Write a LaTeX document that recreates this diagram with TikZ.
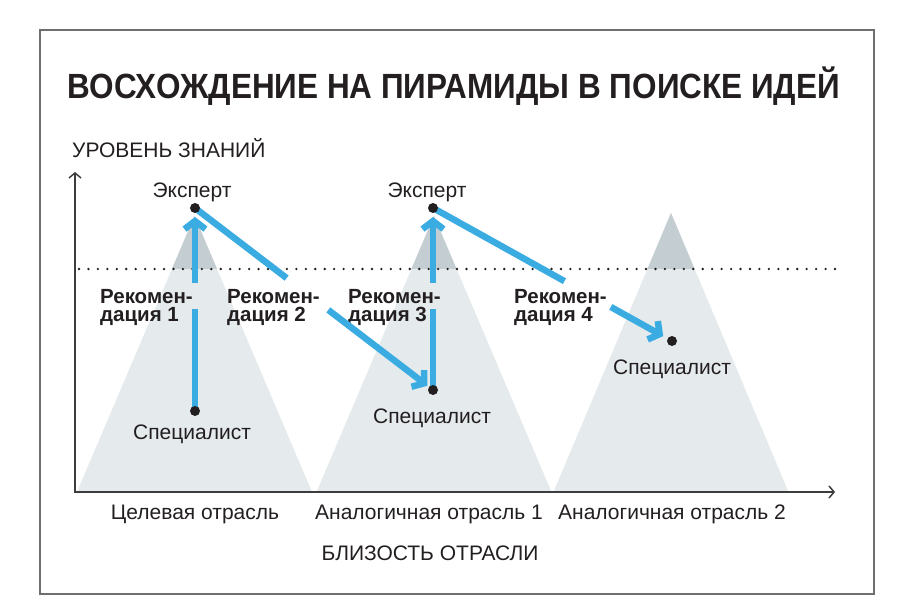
\documentclass[tikz,border=0pt]{standalone}
\usepackage{fontspec}
\setmainfont{Liberation Sans}
\usetikzlibrary{arrows.meta,calc}
\definecolor{ink}{HTML}{231F20}
\definecolor{pyrlight}{HTML}{E5EAEC}
\definecolor{pyrdark}{HTML}{C4CED2}
\definecolor{arrblue}{HTML}{3BACE1}
\definecolor{framegray}{HTML}{6E6E6E}
\definecolor{axisgray}{HTML}{3C3C3C}
\pgfdeclarelayer{fg}
\pgfsetlayers{main,fg}
\begin{document}
\begin{tikzpicture}[x=1pt,y=-1pt,
  dot/.style={circle,fill=ink,inner sep=0pt,minimum size=10pt},
  reg/.style={font=\fontsize{21}{24}\selectfont,text=ink,inner sep=0pt},
  rec/.style={font=\fontsize{20.5}{17.5}\bfseries\selectfont,text=ink,inner sep=0pt,align=left},
  blueline/.style={draw=arrblue,line width=6.5pt},
  bluearrow/.style={blueline,-{Straight Barb[length=8pt,width=21pt]}},
  axisline/.style={draw=axisgray,line width=1.8pt,line join=miter}
]
\useasboundingbox (0,0) rectangle (897,613);
\fill[white] (0,0) rectangle (897,613);
\draw[framegray,line width=1.5pt] (40,30) rectangle (874,594);

% pyramids
\foreach \c/\t in {194.5/216,434/216,671/213}{
  \fill[pyrlight] (\c-117.5,492) -- (\c,\t) -- (\c+117.5,492) -- cycle;
  \begin{scope}
    \clip (\c-117.5,492) -- (\c,\t) -- (\c+117.5,492) -- cycle;
    \fill[pyrdark] (\c-120,200) rectangle (\c+120,269);
  \end{scope}
}

% dotted level line
\draw[ink,line width=2.6pt,line cap=round,dash pattern=on 0pt off 9.45pt] (79,269) -- (837,269);

% axes
\coordinate (ytop) at (75,172);
\coordinate (origin) at (75,492);
\coordinate (xend) at (835,492);
\draw[axisline,{Straight Barb[length=5pt,width=12pt,line width=1.5pt]}-{Straight Barb[length=5pt,width=12pt,line width=1.5pt]}] (ytop) -- (origin) -- (xend);

% title and axis labels
\node[anchor=base,inner sep=0pt,text=ink,font=\fontsize{35}{40}\bfseries\selectfont] (title) at (454,98)
  {\resizebox{772pt}{\height}{ВОСХОЖДЕНИЕ НА ПИРАМИДЫ В ПОИСКЕ ИДЕЙ}};
\node[reg,anchor=base west] (ylab) at (72,157) {УРОВЕНЬ ЗНАНИЙ};
\node[reg,anchor=base] (xlab) at (430,560) {БЛИЗОСТЬ ОТРАСЛИ};
\node[reg,anchor=base] (ind1) at (195,519) {Целевая отрасль};
\node[reg,anchor=base] (ind2) at (429,519) {Аналогичная отрасль 1};
\node[reg,anchor=base] (ind3) at (672,519) {Аналогичная отрасль 2};

% points
\begin{pgfonlayer}{fg}
\node[dot] (exp1) at (195,208) {};
\node[dot] (spec1) at (195,411) {};
\node[dot] (exp2) at (433,208) {};
\node[dot] (spec2) at (433,390) {};
\node[dot] (spec3) at (672,341) {};
\end{pgfonlayer}

\node[reg,anchor=base] (exp1lab) at (192,197) {Эксперт};
\node[reg,anchor=base] (exp2lab) at (427,197) {Эксперт};
\node[reg,anchor=base] (spec1lab) at (192,439) {Специалист};
\node[reg,anchor=base] (spec2lab) at (432,423) {Специалист};
\node[reg,anchor=base] (spec3lab) at (672,374) {Специалист};

% recommendation labels
\node[rec,anchor=base west] (rec1) at (100,321) {Рекомен-\\дация 1};
\node[rec,anchor=base west] (rec2) at (227,321) {Рекомен-\\дация 2};
\node[rec,anchor=base west] (rec3) at (348,321) {Рекомен-\\дация 3};
\node[rec,anchor=base west] (rec4) at (514,321) {Рекомен-\\дация 4};

% connectors
\coordinate (a1) at ($(spec1)!0.502!(exp1)$);
\coordinate (b1) at ($(spec1)!0.631!(exp1)$);
\draw[blueline] (spec1.center) -- (a1);
\draw[bluearrow,shorten >=9pt] (b1) -- (exp1.center);

\coordinate (a2) at ($(exp1)!0.385!(spec2)$);
\coordinate (b2) at ($(exp1)!0.56!(spec2)$);
\draw[blueline] (exp1.center) -- (a2);
\draw[bluearrow,shorten >=7pt] (b2) -- (spec2.center);

\coordinate (a3) at ($(spec2)!0.445!(exp2)$);
\coordinate (b3) at ($(spec2)!0.588!(exp2)$);
\draw[blueline] (spec2.center) -- (a3);
\draw[bluearrow,shorten >=9pt] (b3) -- (exp2.center);

\coordinate (a4) at ($(exp2)!0.55!(spec3)$);
\coordinate (b4) at ($(exp2)!0.744!(spec3)$);
\draw[blueline] (exp2.center) -- (a4);
\draw[bluearrow,shorten >=10pt] (b4) -- (spec3.center);
\end{tikzpicture}
\end{document}
